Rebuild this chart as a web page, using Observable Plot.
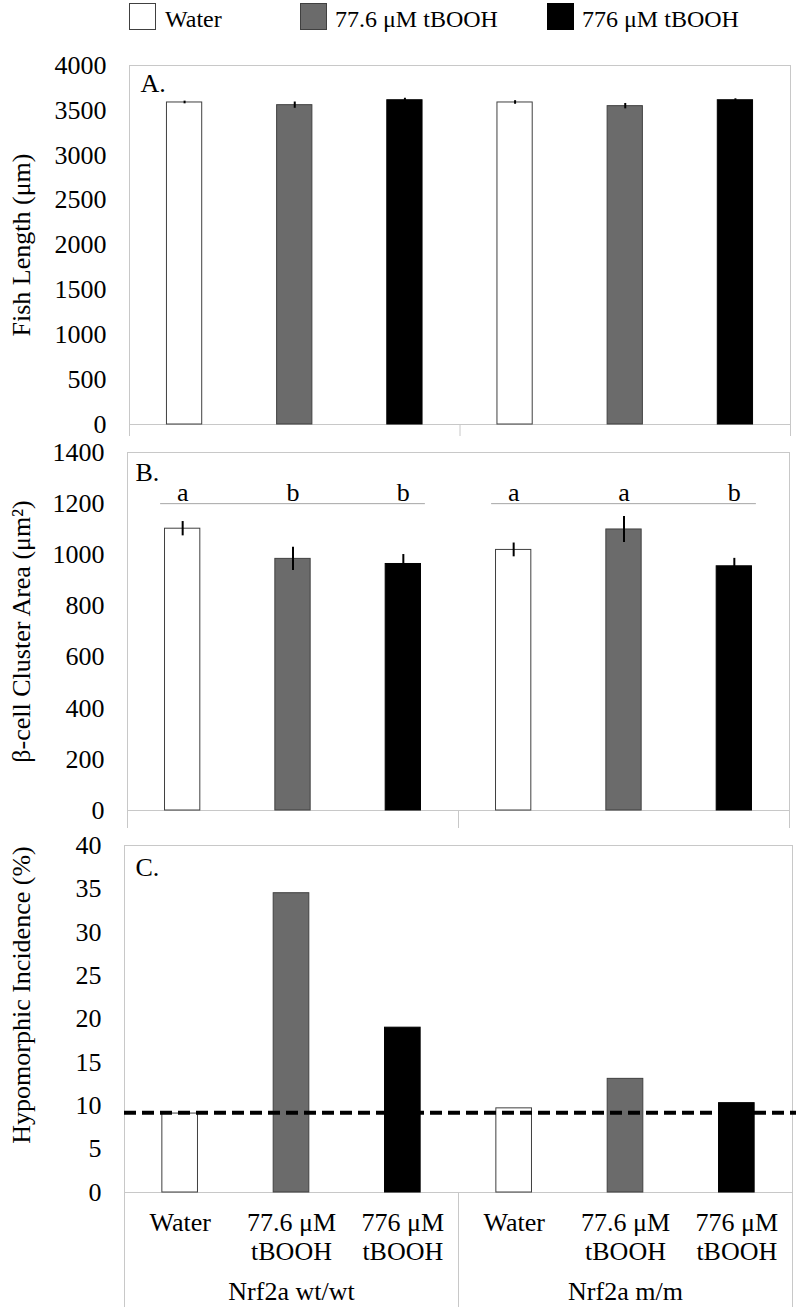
<!DOCTYPE html>
<html>
<head>
<meta charset="utf-8">
<script src="https://cdn.jsdelivr.net/npm/d3@7"></script>
<script src="https://cdn.jsdelivr.net/npm/@observablehq/plot@0.6"></script>
<style>
  html, body { margin: 0; padding: 0; background: white; overflow: hidden; }
  body { width: 796px; font-family: "Liberation Serif", "Times New Roman", serif; }
  svg { display: block; }
  #legend { position: relative; height: 40px; width: 796px; font-size: 24px; color: black; }
  .lg-box { position: absolute; top: 3px; width: 27px; height: 27px; box-sizing: border-box; }
  .lg-text { position: absolute; top: 7px; line-height: 24px; white-space: nowrap; }
</style>
</head>
<body>
<div id="legend"></div>
<div id="chart"></div>
<script>
// ---- data ----
const treatments = ["Water", "77.6 μM tBOOH", "776 μM tBOOH"];
const treatmentFills = ["#ffffff", "#6b6b6b", "#000000"];
const genotypes = ["Nrf2a wt/wt", "Nrf2a m/m"];
const categoryLabels = ["Water", "77.6 μM\ntBOOH", "776 μM\ntBOOH", "Water", "77.6 μM\ntBOOH", "776 μM\ntBOOH"];

const fishLength = [3588, 3558, 3613, 3588, 3547, 3613];
const fishLengthErr = [15, 35, 22, 20, 30, 16];

const clusterArea = [1102, 984, 964, 1019, 1099, 955];
const clusterAreaErr = [28, 45, 37, 27, 51, 31];
const clusterLetters = ["a", "b", "b", "a", "a", "b"];
const letterLineLevel = 1200;

const hypomorphic = [9.1, 34.5, 19.0, 9.7, 13.1, 10.3];
const hypomorphicBaseline = 9.2;

const lengthTicks = [0, 500, 1000, 1500, 2000, 2500, 3000, 3500, 4000];
const areaTicks = [0, 200, 400, 600, 800, 1000, 1200, 1400];
const hypoTicks = [0, 5, 10, 15, 20, 25, 30, 35, 40];

// ---- derived tables ----
const rows = categoryLabels.map((label, i) => ({
  i,
  label,
  treatment: treatments[i % 3],
  genotype: genotypes[Math.floor(i / 3)]
}));
const groups = genotypes.map((g) => {
  const idx = rows.filter(r => r.genotype === g).map(r => r.i);
  return {genotype: g, start: d3.min(idx), end: d3.max(idx), center: d3.mean(idx)};
});
const bounds = [-0.5, ...groups.map(g => g.end + 0.5)];

// ---- legend ----
const legendPos = [[129, 165], [300, 335], [547, 582]];
const legend = document.getElementById("legend");
treatments.forEach((t, k) => {
  const b = document.createElement("div");
  b.className = "lg-box";
  b.style.left = legendPos[k][0] + "px";
  b.style.background = treatmentFills[k];
  b.style.border = "1px solid " + (k === 2 ? "#000" : "#404040");
  legend.appendChild(b);
  const s = document.createElement("div");
  s.className = "lg-text";
  s.style.left = legendPos[k][1] + "px";
  s.textContent = t;
  legend.appendChild(s);
});

// ---- panels ----
const HW = 0.16;
const frameColor = "#c8c8c8";
function panel(o) {
  const data = rows.map(r => ({...r, v: o.values[r.i], e: o.errors ? o.errors[r.i] : 0}));
  const marks = [
    Plot.frame({stroke: frameColor}),
    Plot.ruleX(bounds, {x: d => d, y1: 0, y2: 0, insetBottom: -o.ext, stroke: frameColor}),
    Plot.rectY(data, {x1: d => d.i - HW, x2: d => d.i + HW, y: "v", fill: "treatment", stroke: d => d.treatment === treatments[2] ? "#000" : "#404040", strokeWidth: 1})
  ];
  if (o.errors) {
    marks.push(Plot.ruleX(data, {x: "i", y1: d => d.v - d.e, y2: d => d.v + d.e, stroke: "black", strokeWidth: 2}));
  }
  marks.push(Plot.text([o.letter], {frameAnchor: "top-left", text: d => d, textAnchor: "start", lineAnchor: "top", dx: o.ldx, dy: o.ldy, fill: "black"}));
  marks.push(Plot.text([o.title], {frameAnchor: "left", text: d => d, textAnchor: "middle", lineAnchor: "middle", rotate: -90, dx: -(o.ml - 21), dy: o.titleDy || 0, fill: "black"}));
  if (o.extra) marks.push(...o.extra(data));
  return Plot.plot({
    width: 796,
    height: o.h,
    marginLeft: o.ml,
    marginRight: o.mr,
    marginTop: o.mt,
    marginBottom: o.mb,
    x: {domain: [-0.5, 5.5], axis: null},
    y: {domain: [0, o.yMax], ticks: o.ticks, tickFormat: "d", tickSize: 0, tickPadding: 23, label: null},
    color: {domain: treatments, range: treatmentFills},
    style: {fontFamily: "'Liberation Serif', 'Times New Roman', serif", fontSize: "26px", color: "black", background: "white", overflow: "visible"},
    marks
  });
}

const chart = document.getElementById("chart");

chart.appendChild(panel({
  values: fishLength, errors: fishLengthErr, ticks: lengthTicks, yMax: 4000,
  title: "Fish Length (μm)", letter: "A.", ldx: 11, ldy: 8,
  ml: 129, mr: 6, h: 400, mt: 25, mb: 16, ext: 12
}));

chart.appendChild(panel({
  values: clusterArea, errors: clusterAreaErr, ticks: areaTicks, yMax: 1400,
  title: "β-cell Cluster Area (μm²)", letter: "B.", ldx: 8, ldy: 10,
  ml: 127, mr: 7, h: 390, mt: 12, mb: 20, ext: 18,
  extra: data => [
    Plot.ruleY(groups, {y: letterLineLevel, x1: d => d.start - 0.2, x2: d => d.end + 0.2, stroke: "#a6a6a6", strokeWidth: 1}),
    Plot.text(data, {x: "i", y: letterLineLevel, text: d => clusterLetters[d.i], lineAnchor: "bottom", dy: -3, fill: "black"})
  ]
}));

chart.appendChild(panel({
  values: hypomorphic, ticks: hypoTicks, yMax: 40,
  title: "Hypomorphic Incidence (%)", letter: "C.", ldx: 11, ldy: 12, titleDy: -24,
  ml: 124, mr: 4, h: 480, mt: 15, mb: 118, ext: 115,
  extra: data => [
    Plot.ruleY([hypomorphicBaseline], {y: d => d, stroke: "black", strokeWidth: 4, strokeDasharray: "12,6", insetRight: -4}),
    Plot.text(data, {x: "i", y: 0, text: "label", lineAnchor: "top", dy: 19, lineHeight: 1.08, fill: "black"}),
    Plot.text(groups, {x: "center", y: 0, text: "genotype", lineAnchor: "top", dy: 89, fill: "black"})
  ]
}));
</script>
</body>
</html>
